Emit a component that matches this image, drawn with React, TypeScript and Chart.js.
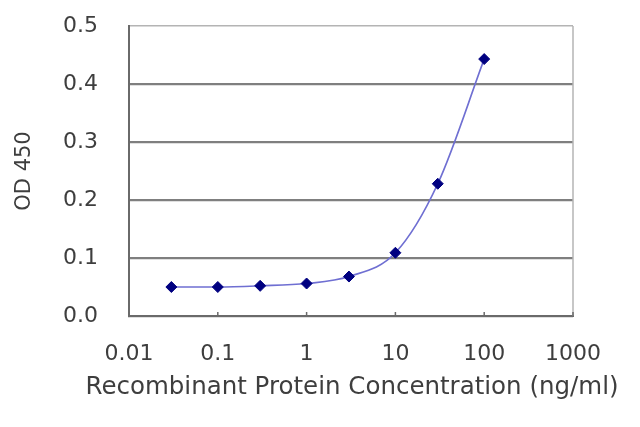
import React, { useEffect, useRef } from "react";
import { Chart, registerables } from "chart.js";

Chart.register(...registerables);

const concentrations = [0.03, 0.1, 0.3, 1, 3, 10, 30, 100];
const od450 = [0.05, 0.05, 0.052, 0.056, 0.068, 0.109, 0.228, 0.443];
const xTickValues = [0.01, 0.1, 1, 10, 100, 1000];
const xTickLabels = ["0.01", "0.1", "1", "10", "100", "1000"];
const yTitle = "OD 450";
const xTitle = "Recombinant Protein Concentration (ng/ml)";

const TEXT = "#3e3e3e";
const FONT = "'DejaVu Sans', sans-serif";

const framePlugin = {
  id: "frame",
  beforeDatasetsDraw(chart: any) {
    const { ctx, chartArea, scales } = chart;
    ctx.save();
    ctx.strokeStyle = "#b4b4b4";
    ctx.lineWidth = 1.5;
    ctx.beginPath();
    ctx.moveTo(chartArea.right, chartArea.top);
    ctx.lineTo(chartArea.right, chartArea.bottom);
    ctx.stroke();
    ctx.strokeStyle = "#6a6a6a";
    ctx.lineWidth = 1.5;
    scales.x.ticks.forEach((t: any) => {
      const px = scales.x.getPixelForValue(t.value);
      ctx.beginPath();
      ctx.moveTo(px, chartArea.bottom);
      ctx.lineTo(px, chartArea.bottom - 4);
      ctx.stroke();
    });
    ctx.restore();
  },
  afterDraw(chart: any) {
    const { ctx, chartArea } = chart;
    ctx.save();
    ctx.fillStyle = TEXT;
    ctx.font = `24.5px ${FONT}`;
    ctx.textAlign = "center";
    ctx.textBaseline = "middle";
    ctx.fillText(xTitle, (chartArea.left + chartArea.right) / 2 + 1, chartArea.bottom + 72);
    ctx.restore();
  },
};

export default function App() {
  const canvasRef = useRef<HTMLCanvasElement | null>(null);

  useEffect(() => {
    if (!canvasRef.current) return;
    const chart = new Chart(canvasRef.current, {
      type: "line",
      data: {
        datasets: [
          {
            data: concentrations.map((c, i) => ({ x: c, y: od450[i] })),
            borderColor: "#6f6fd2",
            borderWidth: 1.7,
            cubicInterpolationMode: "monotone",
            pointStyle: "rectRot",
            pointRadius: 5.5,
            pointBackgroundColor: "#000080",
            pointBorderColor: "#000080",
            pointBorderWidth: 1,
            fill: false,
          },
        ],
      },
      options: {
        animation: false,
        responsive: true,
        maintainAspectRatio: false,
        layout: { padding: { left: 0, top: 26, right: 67, bottom: 0 } },
        plugins: {
          legend: { display: false },
          tooltip: { enabled: false },
        },
        scales: {
          x: {
            type: "logarithmic",
            min: 0.01,
            max: 1000,
            afterBuildTicks: (axis: any) => {
              axis.ticks = xTickValues.map((v) => ({ value: v }));
            },
            afterFit: (axis: any) => {
              axis.height = 111;
              axis.paddingLeft = 0;
              axis.paddingRight = 0;
              axis.paddingTop = 0;
              axis.paddingBottom = 0;
            },
            grid: { display: false, drawTicks: false },
            border: { display: true, color: "#6a6a6a", width: 2 },
            ticks: {
              autoSkip: false,
              maxRotation: 0,
              padding: 25,
              color: TEXT,
              font: { family: FONT, size: 22 },
              callback: (_v: any, i: number) => xTickLabels[i],
            },
            title: { display: false },
          },
          y: {
            min: 0,
            max: 0.5,
            afterFit: (axis: any) => {
              axis.width = 129;
              axis.paddingLeft = 0;
              axis.paddingRight = 0;
              axis.paddingTop = 0;
              axis.paddingBottom = 0;
            },
            grid: {
              drawTicks: false,
              color: (ctx: any) =>
                ctx.tick && Math.abs(ctx.tick.value - 0.5) < 1e-9 ? "#b4b4b4" : "#7f7f7f",
              lineWidth: (ctx: any) =>
                ctx.tick && Math.abs(ctx.tick.value - 0.5) < 1e-9 ? 1.5 : 2.2,
            },
            border: { display: true, color: "#6a6a6a", width: 2 },
            ticks: {
              stepSize: 0.1,
              padding: 31,
              color: TEXT,
              font: { family: FONT, size: 22 },
              callback: (v: any) => Number(v).toFixed(1),
            },
            title: {
              display: true,
              text: yTitle,
              color: TEXT,
              font: { family: FONT, size: 21 },
              padding: { top: 12, bottom: 0 },
            },
          },
        },
      },
      plugins: [framePlugin],
    } as any);
    return () => chart.destroy();
  }, []);

  return (
    <div style={{ position: "fixed", left: 0, top: 0, width: 640, height: 427, background: "#fff" }}>
      <canvas ref={canvasRef} />
    </div>
  );
}
